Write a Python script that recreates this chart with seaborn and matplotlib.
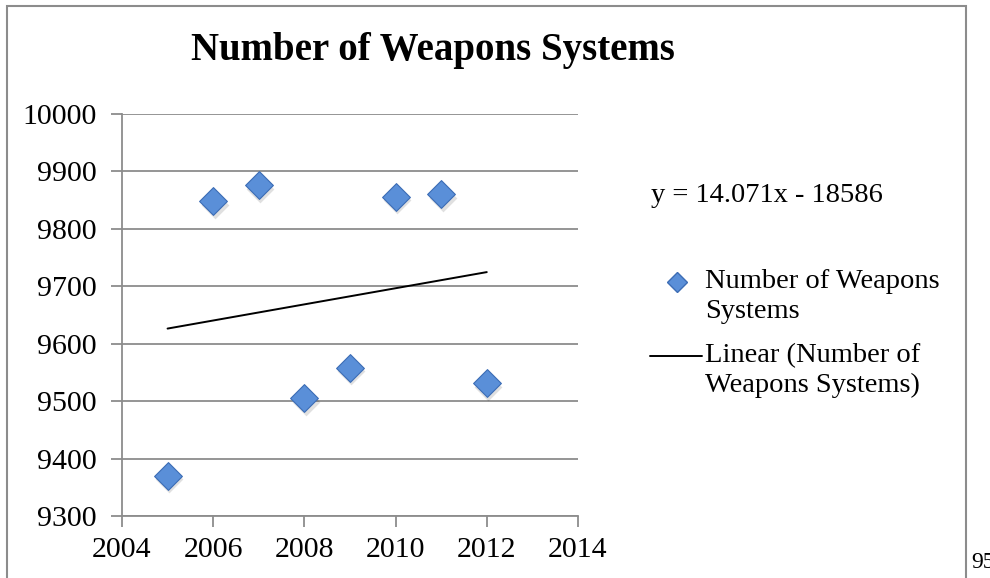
import numpy as np
import matplotlib
matplotlib.use("Agg")
import matplotlib.pyplot as plt
from matplotlib.lines import Line2D
from matplotlib.patches import Rectangle
import seaborn as sns
import pandas as pd

years = [2005, 2006, 2007, 2008, 2009, 2010, 2011, 2012]
weapons = [9370, 9848, 9876, 9505, 9558, 9856, 9860, 9531]
x_ticks = [2004, 2006, 2008, 2010, 2012, 2014]
y_ticks = [9300, 9400, 9500, 9600, 9700, 9800, 9900, 10000]
equation = "y = 14.071x - 18586"
series_name = "Number of Weapons Systems"

df = pd.DataFrame({"year": years, "weapons": weapons})

sns.set_style("white")
plt.rcParams["font.family"] = ["Liberation Serif", "DejaVu Serif"]
plt.rcParams["text.color"] = "black"

fig = plt.figure(figsize=(9.9, 5.78), dpi=100)
ax = fig.add_axes([0.1232, 0.1073, 0.4606, 0.6955])

face = "#5a8fd8"
edge = "#3d6db5"

# soft shadow under the diamonds
ax.scatter(np.array(years) + 0.03, np.array(weapons) - 6, marker="D", s=200,
           color="#000000", alpha=0.12, linewidths=0, zorder=2)
sns.scatterplot(data=df, x="year", y="weapons", marker="D", s=200,
                color=face, edgecolor=edge, linewidth=0.8, ax=ax, zorder=3)
sns.regplot(data=df, x="year", y="weapons", scatter=False, ci=None,
            line_kws={"color": "black", "linewidth": 1.4}, ax=ax)

ax.set_xlim(2004, 2014)
ax.set_ylim(9300, 10000)
ax.set_xticks(x_ticks)
ax.set_yticks(y_ticks)
ax.set_xlabel("")
ax.set_ylabel("")
ax.grid(axis="y", color="#8c8c8c", linewidth=1.3)
ax.grid(axis="x", visible=False)
for s in ["top", "right"]:
    ax.spines[s].set_visible(False)
for s in ["left", "bottom"]:
    ax.spines[s].set_color("#8c8c8c")
    ax.spines[s].set_linewidth(1.3)
ax.tick_params(axis="both", direction="out", length=8, width=1.3, color="#8c8c8c",
               labelsize=21.5, left=True, bottom=True, labelcolor="black")
ax.tick_params(axis="x", pad=7)
ax.tick_params(axis="y", pad=10)
ax.set_axisbelow(True)

fig.text(0.437, 0.912, series_name, ha="center", va="center",
         fontsize=28, fontweight="bold")

# equation and legend
fs = 20.5
fig.text(0.658, 0.661, equation, ha="left", va="center", fontsize=fs)
fig.add_artist(Line2D([0.684], [1 - 282 / 578], marker="D", markersize=10,
                      markerfacecolor=face, markeredgecolor=edge, linestyle="none",
                      transform=fig.transFigure))
fig.text(0.712, 1 - 282 / 578, "Number of Weapons", ha="left", va="center", fontsize=fs)
fig.text(0.712, 1 - 311 / 578, "Systems", ha="left", va="center", fontsize=fs)
fig.add_artist(Line2D([650 / 990, 702 / 990], [1 - 356 / 578] * 2, color="black",
                      linewidth=1.4, transform=fig.transFigure))
fig.text(0.712, 1 - 356 / 578, "Linear (Number of", ha="left", va="center", fontsize=fs)
fig.text(0.712, 1 - 385 / 578, "Weapons Systems)", ha="left", va="center", fontsize=fs)

# chart frame and page number (cut off at the right edge, as in the source)
fig.add_artist(Rectangle((7 / 990, -0.05), (966 - 7) / 990, 1.05 - 6 / 578,
                         fill=False, edgecolor="#8c8c8c", linewidth=1.5,
                         transform=fig.transFigure))
fig.text(0.981, 1 - 563 / 578, "95", ha="left", va="center", fontsize=17)

fig.savefig("out.png", dpi=100)
